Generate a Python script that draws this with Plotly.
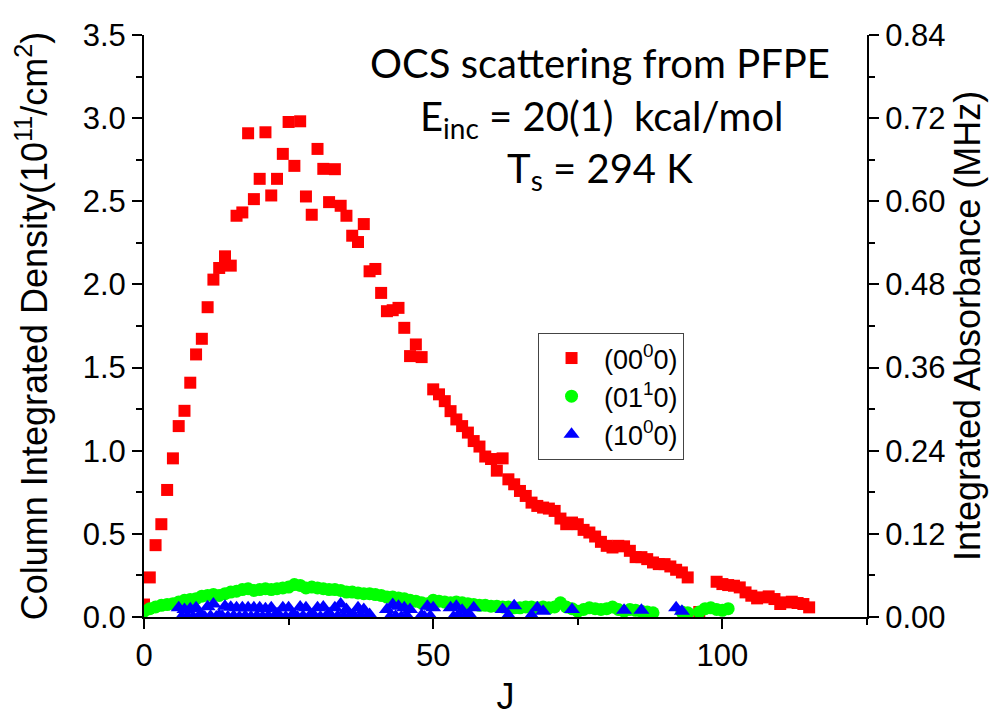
import plotly.graph_objects as go

# Rotational state populations of scattered OCS, (00^0 0) ground vibrational level
j_000 = list(range(0, 49)) + list(range(50, 95)) + [96] + list(range(99, 116))
dens_000 = [
    0.075, 0.238, 0.432, 0.558, 0.764, 0.954, 1.148, 1.240, 1.409, 1.579,
    1.673, 1.863, 2.029, 2.099, 2.169, 2.113, 2.413, 2.433, 2.909, 2.513,
    2.635, 2.915, 2.535, 2.635, 2.785, 2.977, 2.713, 2.981, 2.529, 2.419,
    2.815, 2.695, 2.495, 2.693, 2.473, 2.413, 2.293, 2.255, 2.363, 2.079,
    2.093, 1.949, 1.839, 1.845, 1.859, 1.739, 1.569, 1.639, 1.563,
    1.369, 1.339, 1.298, 1.238, 1.188, 1.148, 1.109, 1.058, 1.025, 0.965,
    0.950, 0.880, 0.954, 0.828, 0.798, 0.758, 0.728, 0.688, 0.668, 0.658,
    0.652, 0.638, 0.592, 0.558, 0.568, 0.558, 0.524, 0.508, 0.484, 0.452,
    0.428, 0.418, 0.428, 0.425, 0.398, 0.360, 0.360, 0.348, 0.328, 0.318,
    0.318, 0.304, 0.284, 0.268, 0.238,
    0.030,
    0.212, 0.198, 0.192, 0.188, 0.178, 0.148, 0.128, 0.112, 0.118, 0.124,
    0.108, 0.078, 0.088, 0.092, 0.084, 0.078, 0.058,
]

# Bending-excited (01^1 0) level
j_011 = list(range(0, 89)) + [93, 94] + list(range(96, 102))
dens_011 = [
    0.035, 0.050, 0.060, 0.070, 0.075, 0.080, 0.090, 0.100, 0.105, 0.110,
    0.125, 0.130, 0.135, 0.130, 0.140, 0.150, 0.155, 0.165, 0.170, 0.160,
    0.165, 0.170, 0.165, 0.170, 0.175, 0.180, 0.195, 0.190, 0.175, 0.180,
    0.175, 0.170, 0.165, 0.165, 0.160, 0.150, 0.150, 0.145, 0.140, 0.140,
    0.135, 0.130, 0.120, 0.120, 0.115, 0.110, 0.100, 0.095, 0.085, 0.080,
    0.100, 0.095, 0.090, 0.085, 0.090, 0.085, 0.080, 0.075, 0.070, 0.070,
    0.065, 0.065, 0.060, 0.060, 0.055, 0.055, 0.060, 0.060, 0.055, 0.060,
    0.055, 0.060, 0.085, 0.060, 0.050, 0.035, 0.045, 0.055, 0.050, 0.045,
    0.050, 0.060, 0.045, 0.035, 0.045, 0.040, 0.035, 0.030, 0.025,
    0.030, 0.025,
    0.030, 0.050, 0.055, 0.045, 0.040, 0.050,
]

# Stretch-excited (10^0 0) level: integer-J readings
j_100 = [6, 7, 8, 9, 10, 11, 12, 13, 14, 15, 16, 17, 18, 19, 20, 21, 22, 23,
         24, 25, 26, 27, 28, 29, 30, 31, 32, 33, 34, 35, 36, 37, 38, 39,
         42, 43, 44, 45, 46, 48, 49, 50,
         53, 54, 55, 56, 57, 62, 63, 64, 67, 68, 69, 74, 83, 86, 92, 93]
dens_100 = [0.055, 0.045, 0.050, 0.055, 0.010, 0.062, 0.078, 0.010, 0.065, 0.058,
            0.055, 0.055, 0.055, 0.055, 0.055, 0.050, 0.055, 0.020,
            0.055, 0.055, 0.010, 0.060, 0.055, 0.010, 0.055, 0.060, 0.020, 0.055,
            0.078, 0.045, 0.010, 0.055, 0.045, 0.015,
            0.045, 0.075, 0.065, 0.055, 0.045, 0.010, 0.065, 0.055,
            0.055, 0.065, 0.040, 0.010, 0.055, 0.045, 0.010, 0.068, 0.010,
            0.055, 0.035, 0.045, 0.040, 0.040, 0.055, 0.035]
# ...and the near-zero readings lying between them
j_100_low = [6.5, 7.5, 8.5, 9.5, 10.5, 11.5, 12.5, 13.5, 14.5, 15.5, 16.5, 17.5,
             18.5, 19.5, 20.5, 21.5, 22.5, 23.5, 24.5, 25.5, 26.5, 27.5, 28.5,
             29.5, 30.5, 31.5, 32.5, 33.5, 34.5, 35.5, 36.5, 37.5, 38.5,
             42.5, 43.5, 44.5, 45.5, 48.5, 49.5, 53.5, 54.5, 55.5, 56.5]
dens_100_low = [
    0.000, 0.005, 0.000, 0.005, 0.000, 0.005, 0.000, 0.005, 0.000, 0.005,
    0.000, 0.005, 0.000, 0.005, 0.000, 0.005, 0.000, 0.005, 0.000, 0.005,
    0.000, 0.005, 0.000, 0.005, 0.000, 0.005, 0.000, 0.005, 0.000, 0.005,
    0.000, 0.005, 0.000,
    0.000, 0.005, 0.000, 0.005, 0.000, 0.005, 0.000, 0.005, 0.000, 0.005,
]

x_ticks = [0, 50, 100]
y_ticks = [0.0, 0.5, 1.0, 1.5, 2.0, 2.5, 3.0, 3.5]
y2_ticks = [0.00, 0.12, 0.24, 0.36, 0.48, 0.60, 0.72, 0.84]

tick_font = dict(family="Liberation Sans, Arial", size=31, color="black")
title_font = dict(family="Liberation Sans, Arial", size=36, color="black")
note_font = dict(family="Lato, Calibri, sans-serif", size=40, color="black")

fig = go.Figure()
fig.add_trace(go.Scatter(
    x=j_000, y=dens_000, mode="markers", name="(00<sup>0</sup>0)",
    marker=dict(symbol="square", size=12, color="#ff0000"),
))
fig.add_trace(go.Scatter(
    x=j_011, y=dens_011, mode="markers", name="(01<sup>1</sup>0)",
    marker=dict(symbol="circle", size=13, color="#00ff00"),
))
fig.add_trace(go.Scatter(
    x=j_100 + j_100_low, y=dens_100 + dens_100_low, mode="markers",
    name="(10<sup>0</sup>0)",
    marker=dict(symbol="triangle-up", size=14, color="#0000ff"),
))
# Right-hand absorbance scale (shares the plotting area)
fig.add_trace(go.Scatter(x=[], y=[], yaxis="y2", showlegend=False, hoverinfo="skip"))

axis_common = dict(
    showline=True, linecolor="black", linewidth=2, mirror=False,
    ticks="outside", ticklen=10, tickwidth=2, tickcolor="black",
    showgrid=False, zeroline=False, tickfont=tick_font, automargin=False,
)
minor_common = dict(ticks="outside", ticklen=6, tickwidth=2, tickcolor="black")

fig.update_layout(
    width=995, height=717,
    margin=dict(l=144, r=128, t=35, b=100),
    paper_bgcolor="white", plot_bgcolor="white",
    xaxis=dict(
        range=[0, 125], tickvals=x_ticks,
        minor=dict(dtick=25, tick0=0, **minor_common),
        title=dict(text="J", font=title_font, standoff=18),
        **axis_common,
    ),
    yaxis=dict(
        range=[0, 3.5], tickvals=y_ticks, tickformat=".1f",
        minor=dict(dtick=0.25, tick0=0, **minor_common),
        title=dict(text="Column Integrated Density(10<sup>11</sup>/cm<sup>2</sup>)",
                   font=title_font, standoff=24),
        **axis_common,
    ),
    yaxis2=dict(
        range=[0, 0.84], tickvals=y2_ticks, tickformat=".2f",
        overlaying="y", side="right", anchor="x",
        minor=dict(dtick=0.06, tick0=0, **minor_common),
        title=dict(text="Integrated Absorbance (MHz)", font=title_font, standoff=10),
        **axis_common,
    ),
    legend=dict(
        x=0.545, y=0.488, xanchor="left", yanchor="top",
        bgcolor="white", bordercolor="#444444", borderwidth=1,
        font=dict(family="Liberation Sans, Arial", size=27, color="black"),
        tracegroupgap=0, itemwidth=55,
    ),
    showlegend=True,
    annotations=[
        dict(text="OCS scattering from PFPE", x=0.631, y=0.952, xref="paper", yref="paper",
             showarrow=False, font=note_font, xanchor="center", yanchor="middle"),
        dict(text="E<sub>inc</sub> = 20(1)&nbsp; kcal/mol", x=0.633, y=0.857, xref="paper", yref="paper",
             showarrow=False, font=note_font, xanchor="center", yanchor="middle"),
        dict(text="T<sub>s</sub> = 294 K", x=0.631, y=0.768, xref="paper", yref="paper",
             showarrow=False, font=note_font, xanchor="center", yanchor="middle"),
    ],
)

fig.write_html("out.html")
